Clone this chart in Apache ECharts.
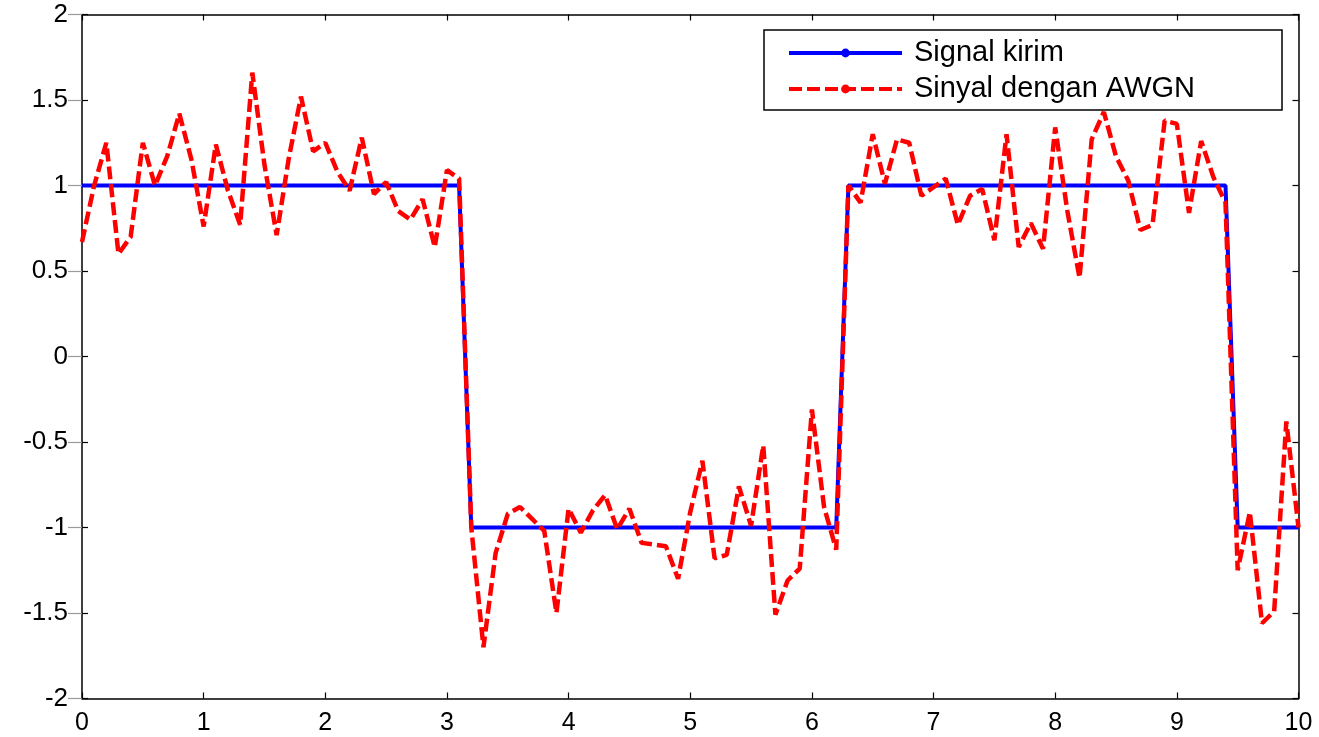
<!DOCTYPE html>
<html>
<head>
<meta charset="utf-8">
<script src="https://cdn.jsdelivr.net/npm/echarts@6/dist/echarts.min.js"></script>
<style>
html,body{margin:0;padding:0;background:#fff;}
#chart{width:1319px;height:737px;}
</style>
</head>
<body>
<div id="chart"></div>
<script>
// time samples 0 : 0.1 : 10
var timeValues = [0,0.1,0.2,0.3,0.4,0.5,0.6,0.7,0.8,0.9,1,1.1,1.2,1.3,1.4,1.5,1.6,1.7,1.8,1.9,2,2.1,2.2,2.3,2.4,2.5,2.6,2.7,2.8,2.9,3,3.1,3.2,3.3,3.4,3.5,3.6,3.7,3.8,3.9,4,4.1,4.2,4.3,4.4,4.5,4.6,4.7,4.8,4.9,5,5.1,5.2,5.3,5.4,5.5,5.6,5.7,5.8,5.9,6,6.1,6.2,6.3,6.4,6.5,6.6,6.7,6.8,6.9,7,7.1,7.2,7.3,7.4,7.5,7.6,7.7,7.8,7.9,8,8.1,8.2,8.3,8.4,8.5,8.6,8.7,8.8,8.9,9,9.1,9.2,9.3,9.4,9.5,9.6,9.7,9.8,9.9,10];

// transmitted signal (Signal kirim)
var signalKirim = [
  1,1,1,1,1,1,1,1,1,1,
  1,1,1,1,1,1,1,1,1,1,
  1,1,1,1,1,1,1,1,1,1,
  1,1,-1,-1,-1,-1,-1,-1,-1,-1,
  -1,-1,-1,-1,-1,-1,-1,-1,-1,-1,
  -1,-1,-1,-1,-1,-1,-1,-1,-1,-1,
  -1,-1,-1,1,1,1,1,1,1,1,
  1,1,1,1,1,1,1,1,1,1,
  1,1,1,1,1,1,1,1,1,1,
  1,1,1,1,1,-1,-1,-1,-1,-1,
  -1];

// received signal with AWGN (Sinyal dengan AWGN)
var sinyalAwgn = [
  0.67,1.00,1.25,0.60,0.70,1.25,1.00,1.17,1.42,1.15,
  0.76,1.24,0.97,0.77,1.66,1.12,0.71,1.16,1.52,1.20,
  1.25,1.08,0.97,1.28,0.95,1.02,0.85,0.80,0.92,0.64,
  1.09,1.04,-1.00,-1.70,-1.15,-0.92,-0.88,-0.95,-1.02,-1.50,
  -0.89,-1.03,-0.90,-0.81,-1.01,-0.89,-1.09,-1.10,-1.11,-1.30,
  -0.91,-0.61,-1.18,-1.16,-0.76,-0.99,-0.52,-1.51,-1.31,-1.24,
  -0.31,-0.88,-1.13,1.00,0.90,1.30,1.01,1.27,1.25,0.94,
  0.99,1.04,0.77,0.94,0.98,0.68,1.30,0.64,0.78,0.63,
  1.34,0.85,0.46,1.27,1.43,1.17,1.03,0.74,0.77,1.38,
  1.36,0.84,1.26,1.05,0.90,-1.25,-0.91,-1.56,-1.49,-0.38,
  -1.00];

var seriesNames = ['Signal kirim', 'Sinyal dengan AWGN'];

function pairs(xs, ys) {
  var out = [];
  for (var i = 0; i < xs.length; i++) out.push([xs[i], ys[i]]);
  return out;
}

var FONT = 'Liberation Sans, Arial, sans-serif';
var chart = echarts.init(document.getElementById('chart'), null, {renderer: 'canvas'});
chart.setOption({
  animation: false,
  backgroundColor: '#ffffff',
  grid: {left: 82, right: 20.5, top: 14.5, bottom: 38.5, containLabel: false},
  legend: {
    data: seriesNames,
    orient: 'vertical',
    left: 764,
    top: 30,
    itemWidth: 113,
    itemHeight: 11,
    itemGap: 6,
    padding: [8, 87, 6, 23],
    borderColor: '#000',
    borderWidth: 1.5,
    backgroundColor: '#fff',
    borderRadius: 0,
    lineStyle: {width: 4},
    textStyle: {fontFamily: FONT, fontSize: 29, color: '#000', lineHeight: 30, padding: [0, 0, 0, 7]}
  },
  xAxis: [{
    type: 'value', min: 0, max: 10, interval: 1, position: 'bottom',
    axisLine: {show: true, onZero: false, lineStyle: {color: '#000', width: 1.5}},
    axisTick: {show: true, inside: true, length: 6, lineStyle: {color: '#000', width: 1.2}},
    axisLabel: {fontFamily: FONT, fontSize: 25, color: '#000', margin: 12},
    splitLine: {show: false}
  }, {
    type: 'value', min: 0, max: 10, interval: 1, position: 'top',
    axisLine: {show: true, onZero: false, lineStyle: {color: '#000', width: 1.5}},
    axisTick: {show: true, inside: true, length: 6, lineStyle: {color: '#000', width: 1.2}},
    axisLabel: {show: false},
    splitLine: {show: false}
  }],
  yAxis: [{
    type: 'value', min: -2, max: 2, interval: 0.5, position: 'left',
    axisLine: {show: true, onZero: false, lineStyle: {color: '#000', width: 1.5}},
    axisTick: {show: true, inside: true, length: 6, lineStyle: {color: '#000', width: 1.2}},
    axisLabel: {fontFamily: FONT, fontSize: 26, color: '#000', margin: 14},
    splitLine: {show: false}
  }, {
    type: 'value', min: -2, max: 2, interval: 0.5, position: 'right',
    axisLine: {show: true, onZero: false, lineStyle: {color: '#000', width: 1.5}},
    axisTick: {show: true, inside: true, length: 6, lineStyle: {color: '#000', width: 1.2}},
    axisLabel: {show: false},
    splitLine: {show: false}
  }, {
    type: 'value', min: -2, max: 2, interval: 0.5, position: 'left',
    axisLine: {show: false},
    axisTick: {show: true, inside: false, length: 14, lineStyle: {color: '#9a9a9a', width: 1.2}},
    axisLabel: {show: false},
    splitLine: {show: false}
  }],
  series: [{
    name: seriesNames[0],
    type: 'line',
    xAxisIndex: 0, yAxisIndex: 0,
    data: pairs(timeValues, signalKirim),
    symbol: 'circle', symbolSize: 10, showSymbol: false,
    itemStyle: {color: '#0000ff'},
    lineStyle: {color: '#0000ff', width: 4},
    z: 2
  }, {
    name: seriesNames[1],
    type: 'line',
    xAxisIndex: 0, yAxisIndex: 0,
    data: pairs(timeValues, sinyalAwgn),
    symbol: 'circle', symbolSize: 10, showSymbol: false,
    itemStyle: {color: '#ff0000'},
    lineStyle: {color: '#ff0000', width: 4.5, type: [13, 5]},
    z: 3
  }]
});
</script>
</body>
</html>
